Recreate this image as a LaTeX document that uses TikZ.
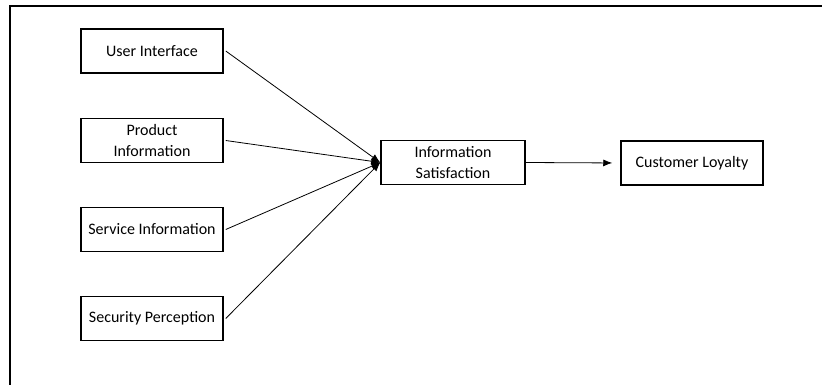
\documentclass[tikz,border=0pt]{standalone}
\usepackage{fontspec}
\setmainfont{Carlito}
\usetikzlibrary{arrows.meta}
\begin{document}
\begin{tikzpicture}[x=1pt,y=-1pt,
  box/.style={draw,line width=1.5pt,minimum width=142pt,minimum height=44pt,inner sep=0pt,align=center,font=\fontsize{16}{21}\selectfont},
  conn/.style={line width=0.8pt,-{Latex[length=9pt,width=7pt]}}]
\useasboundingbox (0,0) rectangle (822,385);
\draw[line width=2pt] (10,385) -- (10,6.5) -- (822,6.5);
\node[box] (ui) at (152,51) {User Interface};
\node[box] (pi) at (152,140.5) {Product\\Information};
\node[box] (si) at (152,229.5) {Service Information};
\node[box] (sp) at (152,318.5) {Security Perception};
\node[box,minimum width=144pt] (is) at (453,162.5) {Information\\Satisfaction};
\node[box] (cl) at (692,163) {Customer Loyalty};
\draw[conn] ([xshift=2pt]ui.east) -- (is.west);
\draw[conn] ([xshift=2pt]pi.east) -- (is.west);
\draw[conn] ([xshift=2pt]si.east) -- (is.west);
\draw[conn] ([xshift=2pt]sp.east) -- (is.west);
\draw[conn,shorten >=8pt] (is.east) -- (cl.west);
\end{tikzpicture}
\end{document}
